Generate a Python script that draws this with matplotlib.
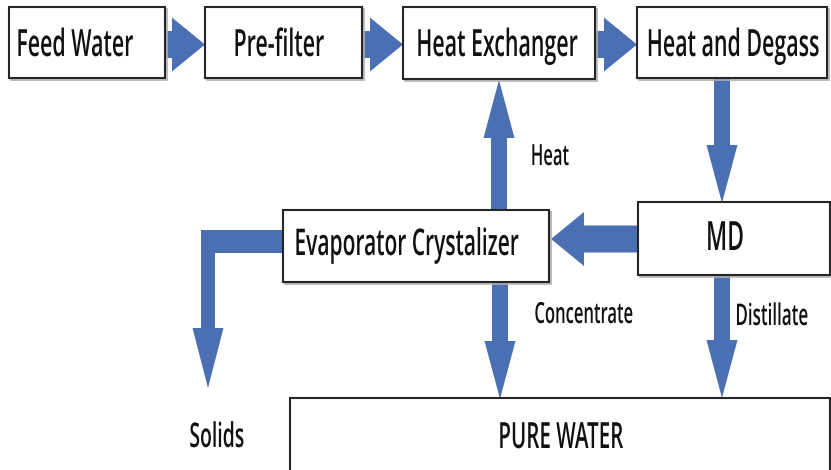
import matplotlib
matplotlib.use("Agg")
import matplotlib.pyplot as plt
from matplotlib.patches import Rectangle, FancyArrow, Polygon
from matplotlib.patheffects import AbstractPathEffect
from matplotlib.transforms import Affine2D

# ---------------- data ----------------
stages = ["Feed Water", "Pre-filter", "Heat Exchanger", "Heat and Degass",
          "MD", "Evaporator Crystalizer", "PURE WATER"]
# (source, target, label)
flows = [
    ("Feed Water", "Pre-filter", ""),
    ("Pre-filter", "Heat Exchanger", ""),
    ("Heat Exchanger", "Heat and Degass", ""),
    ("Heat and Degass", "MD", ""),
    ("MD", "Evaporator Crystalizer", ""),
    ("Evaporator Crystalizer", "Heat Exchanger", "Heat"),
    ("Evaporator Crystalizer", "PURE WATER", "Concentrate"),
    ("MD", "PURE WATER", "Distillate"),
]
outlet_label = "Solids"

# ---------------- layout (pixel space) ----------------
W, H = 831, 470
box = {  # x0, y0, x1, y1
    "Feed Water": (9, 7, 165, 78),
    "Pre-filter": (205, 7, 362, 78),
    "Heat Exchanger": (403, 7, 595, 79),
    "Heat and Degass": (637, 7, 827, 78),
    "MD": (638, 202, 830, 275),
    "Evaporator Crystalizer": (283, 210, 549, 282),
    "PURE WATER": (290, 398, 830, 474),
}
box_text = {  # x centre, baseline, nominal font size
    "Feed Water": (75, 56, 27),
    "Pre-filter": (279, 56, 27),
    "Heat Exchanger": (497, 56, 27),
    "Heat and Degass": (733, 56, 27),
    "MD": (725, 250, 29),
    "Evaporator Crystalizer": (407, 255, 26.5),
    "PURE WATER": (561, 448, 26),
}
flow_geom = {  # orientation, fixed coord, start, end
    ("Feed Water", "Pre-filter"): ("h", 44.5, 165, 205),
    ("Pre-filter", "Heat Exchanger"): ("h", 44.5, 362, 403),
    ("Heat Exchanger", "Heat and Degass"): ("h", 44.5, 595, 637),
    ("Heat and Degass", "MD"): ("v", 722, 79, 203),
    ("MD", "Evaporator Crystalizer"): ("h", 239, 638, 551),
    ("Evaporator Crystalizer", "Heat Exchanger"): ("v", 499, 210, 80),
    ("Evaporator Crystalizer", "PURE WATER"): ("v", 500, 282, 399),
    ("MD", "PURE WATER"): ("v", 722, 275, 398),
}
label_pos = {"Heat": (550, 165, 21), "Concentrate": (584, 323, 21),
             "Distillate": (772, 325, 21.5), "Solids": (217, 447, 24.5)}

H_SHAFT, H_HEAD_W, H_HEAD_L = 27, 54, 33
V_SHAFT, V_HEAD_W, V_HEAD_L = 16, 31, 58
ARROW_C = "#4b6fb3"
EDGE_C = "#262626"
SX = 0.57          # width / height ratio of the condensed lettering


class Tall(AbstractPathEffect):
    """Draw glyphs stretched vertically about their baseline (condensed look)."""
    def __init__(self, sy):
        super().__init__()
        self.sy = sy

    def draw_path(self, renderer, gc, tpath, affine, rgbFace=None):
        t = Affine2D().scale(1, self.sy) + affine
        renderer.draw_path(gc, tpath, t, rgbFace)


plt.rcParams["font.family"] = ["Open Sans", "DejaVu Sans"]
fig = plt.figure(figsize=(W / 100, H / 100), dpi=100)
ax = fig.add_axes([0, 0, 1, 1])
ax.set_xlim(0, W)
ax.set_ylim(H, 0)
ax.axis("off")


def put_text(s, x, y, size):
    ax.text(x, y, s, ha="center", va="baseline", fontsize=size * SX,
            color="#111111", fontweight="semibold", zorder=5,
            path_effects=[Tall(1 / SX)])


for name in stages:
    x0, y0, x1, y1 = box[name]
    ax.add_patch(Rectangle((x0 + 1.5, y0 + 1.5), x1 - x0, y1 - y0, facecolor="none",
                           edgecolor="#b0b0b0", lw=1.2, zorder=2.5))
    ax.add_patch(Rectangle((x0, y0), x1 - x0, y1 - y0, facecolor="white",
                           edgecolor=EDGE_C, lw=1.5, zorder=3))
    tx, ty, fs = box_text[name]
    put_text(name, tx, ty, fs)

for src, dst, lab in flows:
    orient, c, a, b = flow_geom[(src, dst)]
    if orient == "h":
        arr = FancyArrow(a, c, b - a, 0, width=H_SHAFT, head_width=H_HEAD_W,
                         head_length=H_HEAD_L, length_includes_head=True,
                         color=ARROW_C, lw=0, zorder=2)
    else:
        arr = FancyArrow(c, a, 0, b - a, width=V_SHAFT, head_width=V_HEAD_W,
                         head_length=V_HEAD_L, length_includes_head=True,
                         color=ARROW_C, lw=0, zorder=2)
    ax.add_patch(arr)
    if lab:
        lx, ly, fs = label_pos[lab]
        put_text(lab, lx, ly, fs)

# L-shaped outlet arrow from the crystalizer to solids
ev = box["Evaporator Crystalizer"]
band_top, band_bot = 230, 253
col_x, tip_y = 208, 388
half = 7
head_half, head_len = 15.5, 60
pts = [(ev[0], band_top), (col_x - half, band_top), (col_x - half, tip_y - head_len),
       (col_x - head_half, tip_y - head_len), (col_x, tip_y),
       (col_x + head_half, tip_y - head_len), (col_x + half, tip_y - head_len),
       (col_x + half, band_bot), (ev[0], band_bot)]
ax.add_patch(Polygon(pts, closed=True, color=ARROW_C, lw=0, zorder=2))
lx, ly, fs = label_pos[outlet_label]
put_text(outlet_label, lx, ly, fs)

fig.savefig("out.png", dpi=100, facecolor="white")
